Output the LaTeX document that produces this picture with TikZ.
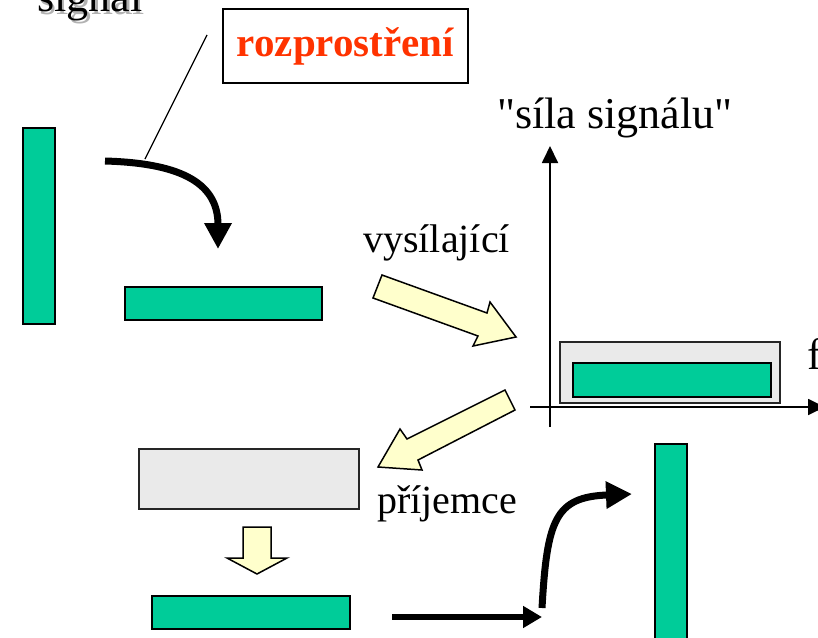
\documentclass[tikz,border=0pt]{standalone}
\usepackage{fontspec}
\setmainfont{Liberation Serif}
\usetikzlibrary{arrows.meta}
\definecolor{tgreen}{RGB}{0,204,153}
\definecolor{tgray}{RGB}{234,234,234}
\definecolor{tyellow}{RGB}{255,255,204}
\definecolor{tred}{RGB}{255,51,0}
\begin{document}
\begin{tikzpicture}[x=1pt,y=-1pt,
  greenbar/.style={draw=black, line width=1.8pt, fill=tgreen, inner sep=0pt, outer sep=0pt},
  graybox/.style={draw=black!85, line width=1.8pt, fill=tgray, inner sep=0pt, outer sep=0pt},
  blockarrow/.style={draw=black, line width=1.5pt, fill=tyellow, line join=miter},
  bigarrow/.style={line width=7pt, -{Triangle[length=26pt,width=26pt]}},
  flatarrow/.style={line width=6pt, -{Triangle[length=19pt,width=21pt]}},
  axis/.style={line width=1.8pt, -{Triangle[length=17pt,width=16pt]}},
  bigtext/.style={font=\fontsize{44}{50}\selectfont, inner sep=0pt, anchor=base west},
  midtext/.style={font=\fontsize{40}{46}\selectfont, inner sep=0pt, anchor=base west}
]
\useasboundingbox (0,0) rectangle (818,637);
% texts
\node[bigtext, text=black!30] (sigshadow) at (39.5,14.5) {signál};
\node[bigtext] (sig) at (37,12) {signál};
\node[draw, line width=1.8pt, minimum width=245pt, minimum height=74pt, inner sep=0pt,
      text=tred, font=\fontsize{41}{46}\selectfont\bfseries] (rbox) at (345.5,46) {rozprostření};
\node[bigtext] (sila) at (497,128) {\addfontfeatures{Ligatures=TeXOff}"síla signálu"};
\node[midtext] (vys) at (363,252) {vysílající};
\node[midtext] (prij) at (377,513) {příjemce};
\node[bigtext] (f) at (807,369) {f};
% bars
\node[greenbar, minimum width=32pt, minimum height=196pt] (bar1) at (39,226) {};
\node[greenbar, minimum width=197pt, minimum height=33pt] (bar2) at (223.5,303.5) {};
\node[graybox, minimum width=220pt, minimum height=61pt] (gbox1) at (670,372.5) {};
\node[greenbar, minimum width=198pt, minimum height=34pt] (bar3) at (672,380) {};
\node[graybox, minimum width=220pt, minimum height=60pt] (gbox2) at (249,479) {};
\node[greenbar, minimum width=198pt, minimum height=33pt] (bar4) at (251,612.5) {};
\node[greenbar, minimum width=32pt, minimum height=216pt] (bar5) at (671,552) {};
% axes
\coordinate (yb) at (550,427);
\coordinate (yt) at (550,146);
\coordinate (xl) at (530,407);
\coordinate (xr) at (825,407);
\draw[axis] (yb) -- (yt);
\draw[axis] (xl) -- (xr);
% curved arrow top
\coordinate (c1s) at (105,161);
\coordinate (c1e) at (218,249);
\draw[bigarrow] (c1s) .. controls (175,163) and (218,180) .. (c1e);
\coordinate (lt) at (207,35);
\coordinate (lb) at (145,159);
\draw[line width=1.2pt] (lt) -- (lb);
% bottom arrows
\coordinate (s1) at (392,617);
\coordinate (s2) at (542,617);
\draw[flatarrow] (s1) -- (s2);
\coordinate (c2s) at (542,608);
\coordinate (c2e) at (632,494);
\draw[bigarrow] (c2s) .. controls (547,520) and (555,497) .. (c2e);
% block arrows
\draw[blockarrow] (382,275) -- (487,313) -- (490,302) -- (516,337) -- (473,346) -- (478,336) -- (373,298) -- cycle;
\draw[blockarrow] (505,390) -- (407,439) -- (400,429) -- (378,467) -- (422,470) -- (418,460) -- (515,410) -- cycle;
\draw[blockarrow] (243,527) -- (271,527) -- (271,558) -- (287,558) -- (257,574) -- (227,558) -- (243,558) -- cycle;
\end{tikzpicture}
\end{document}
